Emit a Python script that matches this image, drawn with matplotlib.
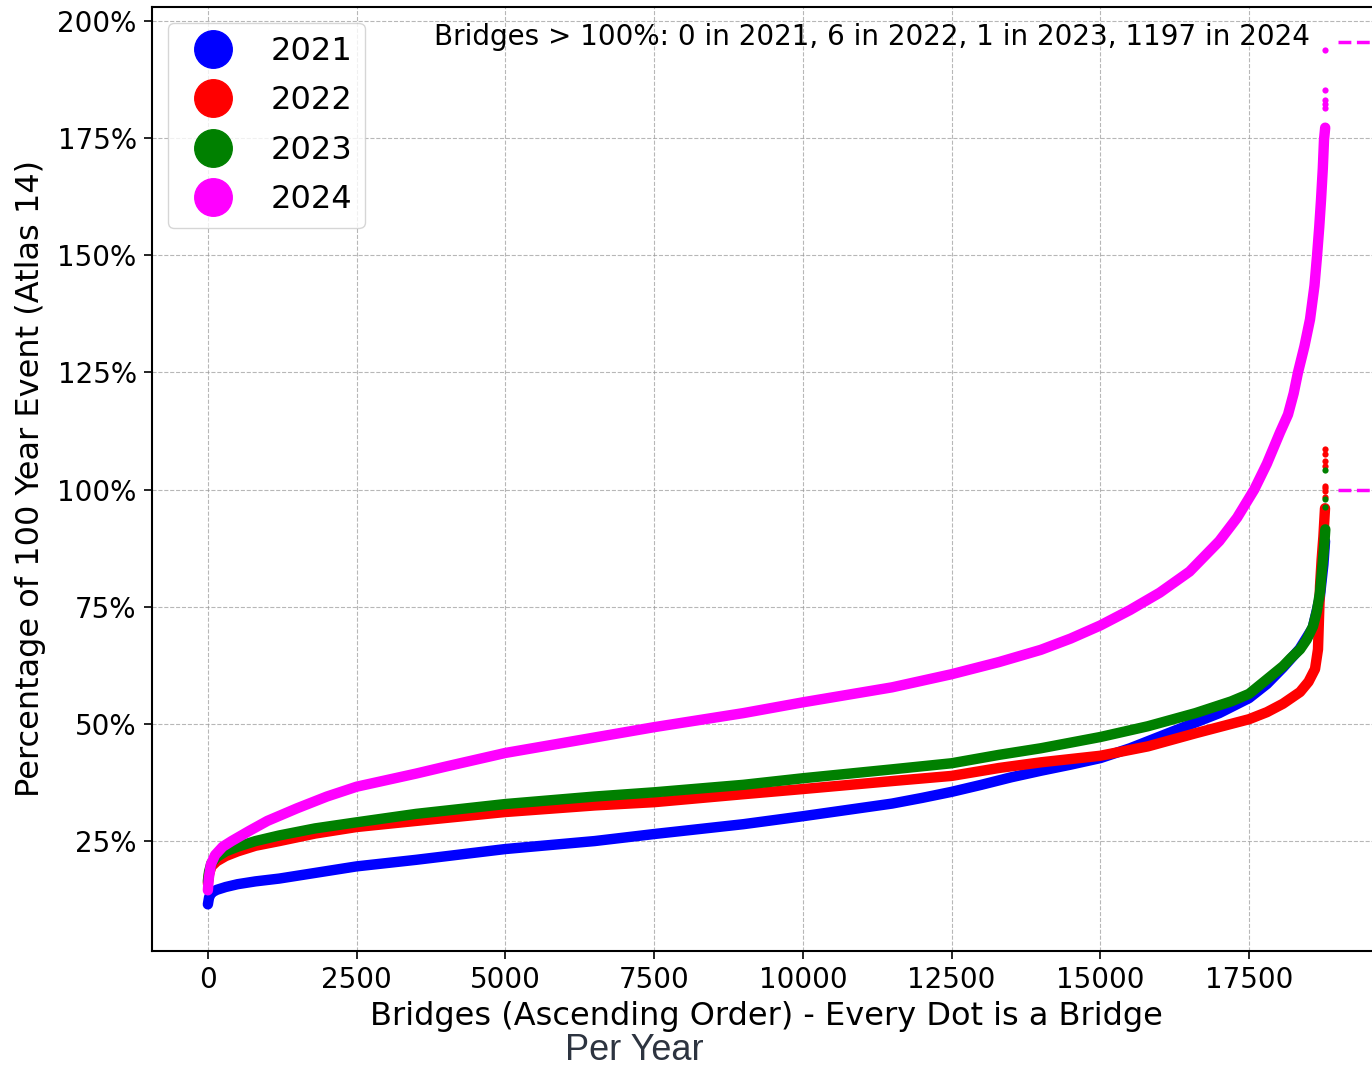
import matplotlib
matplotlib.use("Agg")
import matplotlib.pyplot as plt
from matplotlib.lines import Line2D
from matplotlib.ticker import FuncFormatter

years = ["2021", "2022", "2023", "2024"]
colors = ["blue", "red", "green", "magenta"]

# sorted rainfall per bridge, as % of the Atlas 14 100-year event
# (rank in ascending order, percentage)
rank_2021 = [0, 20, 60, 150, 300, 500, 800, 1200, 1800, 2500, 3500, 5000,
             6500, 7500, 9000, 10000, 11500, 12000, 12500, 13000, 13500,
             14000, 14500, 15000, 15500, 16000, 16500, 17000, 17500, 17800,
             18070, 18350, 18570, 18690, 18750, 18778]
pct_2021 = [11.5, 13.0, 14.0, 14.6, 15.2, 15.8, 16.4, 17.0, 18.2, 19.6, 21.0,
            23.3, 25.0, 26.5, 28.6, 30.3, 33.0, 34.2, 35.5, 37.0, 38.6, 40.0,
            41.3, 42.7, 44.8, 47.3, 49.8, 52.3, 55.5, 58.5, 62.0, 66.0, 70.5,
            77.0, 84.0, 89.0]

rank_2022 = [0, 20, 60, 150, 300, 500, 800, 1200, 1800, 2500, 3500, 5000,
             6500, 7500, 9000, 10000, 11500, 12500, 13300, 14000, 15000,
             15800, 16600, 17200, 17500, 17800, 18070, 18357, 18500, 18609,
             18659, 18693, 18720, 18750, 18777]
pct_2022 = [16.0, 18.0, 19.6, 20.7, 21.8, 22.8, 24.0, 25.0, 26.6, 28.0, 29.3,
            31.2, 32.6, 33.3, 35.0, 36.1, 37.8, 38.9, 40.6, 41.8, 43.2, 45.2,
            48.0, 50.0, 51.0, 52.5, 54.3, 56.8, 59.0, 61.7, 65.9, 79.4, 85.0,
            90.0, 96.0]

rank_2023 = [0, 20, 60, 150, 300, 500, 800, 1200, 1800, 2500, 3500, 5000,
             6500, 7500, 9000, 10000, 11500, 12500, 13300, 14000, 15000,
             15800, 16600, 17200, 17500, 17800, 18070, 18200, 18357, 18470,
             18575, 18640, 18693, 18720, 18760, 18782]
pct_2023 = [16.5, 18.5, 20.3, 21.6, 22.8, 23.8, 25.0, 26.2, 27.7, 29.0, 30.8,
            32.9, 34.5, 35.4, 37.0, 38.4, 40.3, 41.6, 43.4, 44.8, 47.2, 49.5,
            52.3, 54.8, 56.4, 59.5, 62.3, 64.0, 65.9, 68.0, 70.8, 74.0, 78.1,
            82.0, 87.5, 91.5]

rank_2024 = [0, 15, 50, 120, 250, 400, 700, 1000, 1500, 2000, 2500, 3000,
             3500, 4000, 5000, 6000, 7500, 9000, 10000, 11500, 12500, 13300,
             14000, 14500, 15000, 15500, 16000, 16500, 17000, 17300, 17588,
             17800, 18021, 18155, 18250, 18323, 18430, 18525, 18600, 18642,
             18680, 18710, 18740, 18760, 18780]
pct_2024 = [14.5, 17.0, 20.0, 22.0, 23.8, 25.0, 27.2, 29.3, 32.0, 34.5, 36.6,
            38.0, 39.4, 40.9, 43.8, 46.0, 49.3, 52.3, 54.6, 57.8, 60.6, 63.2,
            65.8, 68.2, 71.0, 74.3, 78.0, 82.5, 89.0, 94.0, 100.0, 105.5,
            112.2, 116.0, 120.5, 125.0, 130.5, 136.3, 143.5, 149.7, 156.0,
            161.8, 168.5, 174.6, 177.2]

# the highest few bridges, drawn as separate dots
tail_rank_2022 = [18778, 18779, 18780, 18781, 18782, 18783, 18784, 18785]
tail_pct_2022 = [98.5, 99.6, 100.3, 100.8, 105.0, 106.0, 107.5, 108.6]
tail_rank_2023 = [18783, 18784, 18785]
tail_pct_2023 = [96.2, 97.9, 104.1]
tail_rank_2024 = [18781, 18782, 18783, 18784, 18785]
tail_pct_2024 = [181.5, 182.2, 183.2, 185.3, 193.8]

over_100_counts = [0, 6, 1, 1197]
ref_levels = [100, 195.5]

ranks = [rank_2021, rank_2022, rank_2023, rank_2024]
pcts = [pct_2021, pct_2022, pct_2023, pct_2024]
tail_ranks = [[], tail_rank_2022, tail_rank_2023, tail_rank_2024]
tail_pcts = [[], tail_pct_2022, tail_pct_2023, tail_pct_2024]

fig = plt.figure(figsize=(13.72, 10.69), dpi=100)
ax = fig.add_axes([0.1108, 0.1104, 0.8958, 0.8831])

for r, p, tr, tp, c in zip(ranks, pcts, tail_ranks, tail_pcts, colors):
    ax.plot(r, p, color=c, linewidth=7.5, solid_capstyle="round",
            solid_joinstyle="round", zorder=3)
    if tr:
        ax.scatter(tr, tp, color=c, s=20, zorder=3, linewidths=0)

ax.set_xlim(-939, 19719)
ax.set_ylim(1.55, 202.96)
ax.set_xticks([0, 2500, 5000, 7500, 10000, 12500, 15000, 17500])
ax.set_yticks([25, 50, 75, 100, 125, 150, 175, 200])
ax.yaxis.set_major_formatter(FuncFormatter(lambda v, _: f"{v:.0f}%"))
ax.tick_params(labelsize=20, width=1.2, length=6, pad=5)
for s in ax.spines.values():
    s.set_linewidth(1.5)

ax.hlines(ref_levels, 18995, 19719, colors="magenta", linestyles="--",
          linewidth=2.5, zorder=2)

ax.grid(True, linestyle="--", linewidth=0.8, color="0.6", alpha=0.7)
ax.set_axisbelow(True)

ax.set_xlabel("Bridges (Ascending Order) - Every Dot is a Bridge",
              fontsize=23, labelpad=5)
ax.set_ylabel("Percentage of 100 Year Event (Atlas 14)", fontsize=23,
              labelpad=8)

summary = "Bridges > 100%: " + ", ".join(
    f"{n} in {y}" for n, y in zip(over_100_counts, years))
ax.text(0.942, 0.983, summary, transform=ax.transAxes, ha="right", va="top",
        fontsize=20)

handles = [Line2D([], [], marker="o", linestyle="", markersize=27, color=c,
                  label=y) for y, c in zip(years, colors)]
ax.legend(handles=handles, loc="upper left", fontsize=23, labelspacing=0.58)

fig.text(565 / 1372, 9 / 1069, "Per Year", fontsize=26,
         family="Liberation Sans", color="#2d3440", ha="left",
         va="baseline")

fig.savefig("out.png", dpi=100)
